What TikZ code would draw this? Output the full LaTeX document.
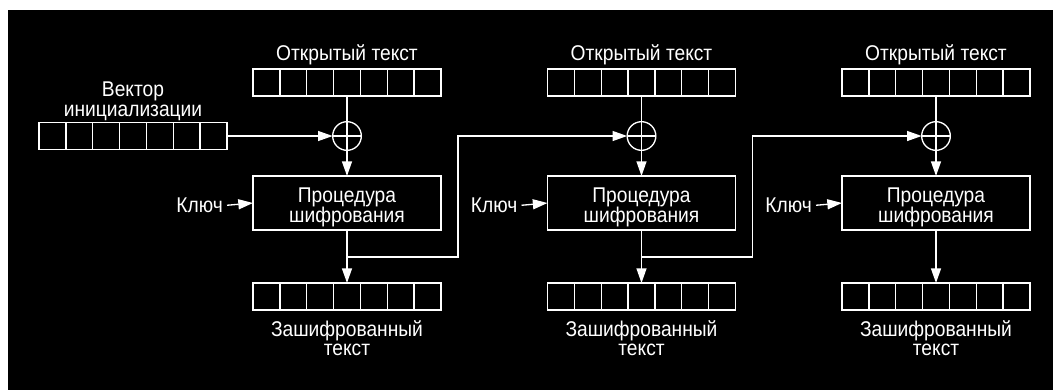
\documentclass[tikz,border=0pt]{standalone}
\usepackage{fontspec}
\newfontfamily\lbl[FakeStretch=0.9]{Liberation Sans}
\usetikzlibrary{arrows.meta}
\begin{document}
\begin{tikzpicture}[x=0.75pt,y=-0.75pt,
  ln/.style={draw=white, line width=1pt},
  reg/.style={ln, rectangle, minimum width=141pt, minimum height=20.25pt, inner sep=0pt, outer sep=0pt},
  txt/.style={text=white, font=\lbl\fontsize{16pt}{15pt}\selectfont, inner sep=0pt},
  lowline/.style={txt, text height=8.6pt, text depth=0.5pt},
  encbox/.style={ln, rectangle, minimum width=141pt, minimum height=40.5pt, inner sep=0pt, outer sep=0pt},
  xorc/.style={ln, circle, minimum size=21.5pt, inner sep=0pt, outer sep=0pt},
  arr/.style={ln, -{Triangle[length=11pt,width=7.5pt]}},
]
\useasboundingbox (0,0) rectangle (1053,390);
\fill[white] (0,0) rectangle (1053,390);
\fill[black] (8,10) rectangle (1053,390);

% initialisation vector
\node[txt, anchor=base] (ivl) at (133,96.5) {Вектор};
\node[lowline, anchor=base] (ivl2) at (133,116.5) {инициализации};
\node[reg] (iv) at (133,136) {};
\foreach \i in {1,...,6}
  \draw[ln] ([xshift=\i*20.142857pt]iv.north west) -- ([xshift=\i*20.142857pt]iv.south west);

\foreach \k/\cx in {1/347,2/641.5,3/936}{
  \node[txt, anchor=base] (ptl\k) at (\cx,60) {Открытый текст};
  \node[reg] (p\k) at (\cx,82.5) {};
  \node[xorc] (x\k) at (\cx,136) {};
  \draw[ln] (x\k.north) -- (x\k.south) (x\k.west) -- (x\k.east);
  \node[encbox] (e\k) at (\cx,203) {};
  \node[txt, anchor=base] (ea\k) at (\cx,202) {Процедура};
  \node[lowline, anchor=base] (eb\k) at (\cx,222) {шифрования};
  \node[reg] (c\k) at (\cx,296.5) {};
  \node[txt, anchor=base] (cta\k) at (\cx,336) {Зашифрованный};
  \node[lowline, anchor=base] (ctb\k) at (\cx,355) {текст};
  \node[txt, anchor=base east] (key\k) at (\cx-124,212.5) {Ключ};
  \coordinate (j\k) at (\cx,257);
  \coordinate (t\k) at (\cx+111,257);
  \foreach \i in {1,...,6}{
    \draw[ln] ([xshift=\i*20.142857pt]p\k.north west) -- ([xshift=\i*20.142857pt]p\k.south west);
    \draw[ln] ([xshift=\i*20.142857pt]c\k.north west) -- ([xshift=\i*20.142857pt]c\k.south west);
  }
  \draw[ln] (p\k.south) -- (x\k.north);
  \draw[arr] (x\k.south) -- (e\k.north);
  \draw[arr] (e\k.south) -- (c\k.north);
  \draw[arr] ([xshift=3pt]key\k.east) -- (e\k.west);
}

\draw[arr] (iv.east) -- (x1.west);
\draw[arr] (j1) -- (t1) |- (x2.west);
\draw[arr] (j2) -- (t2) |- (x3.west);
\end{tikzpicture}
\end{document}
